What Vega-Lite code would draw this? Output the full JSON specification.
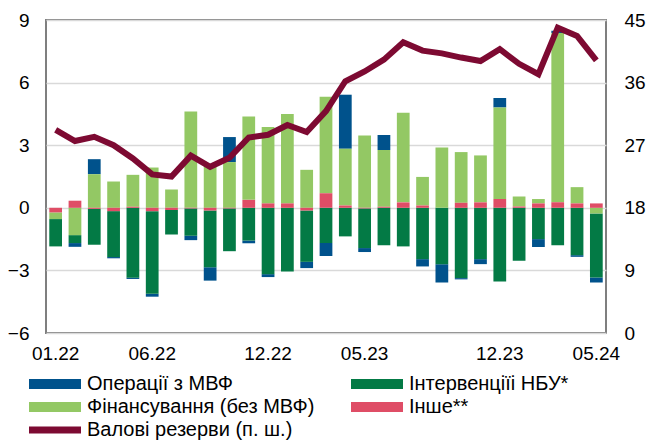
{
  "$schema": "https://vega.github.io/schema/vega-lite/v6.json",
  "width": 560,
  "height": 313,
  "autosize": {"type": "none"},
  "padding": {"left": 46, "top": 20, "right": 43, "bottom": 108},
  "config": {
    "font": "Liberation Sans",
    "view": {"stroke": "#7f7f7f", "strokeWidth": 2},
    "axis": {"labelFontSize": 19, "labelColor": "#000000", "labelFont": "Liberation Sans"},
    "legend": {"labelFontSize": 20, "labelColor": "#000000", "labelFont": "Liberation Sans", "labelLimit": 400}
  },
  "datasets": {
    "months": [
      {"m": "01.22", "imf": 0, "nbu": -1.31, "fin": -0.32, "oth": -0.22, "res": 29.2},
      {"m": "02.22", "imf": -0.18, "nbu": -0.38, "fin": -1.31, "oth": 0.34, "res": 27.6},
      {"m": "03.22", "imf": 0.72, "nbu": -1.72, "fin": 1.61, "oth": -0.05, "res": 28.2},
      {"m": "04.22", "imf": -0.06, "nbu": -2.2, "fin": 1.26, "oth": -0.16, "res": 27.0},
      {"m": "05.22", "imf": -0.06, "nbu": -3.35, "fin": 1.53, "oth": 0.05, "res": 25.1},
      {"m": "06.22", "imf": -0.14, "nbu": -3.96, "fin": 1.93, "oth": -0.16, "res": 22.8},
      {"m": "07.22", "imf": 0, "nbu": -1.18, "fin": 0.88, "oth": -0.1, "res": 22.5},
      {"m": "08.22", "imf": -0.21, "nbu": -1.31, "fin": 4.62, "oth": -0.03, "res": 25.5},
      {"m": "09.22", "imf": -0.64, "nbu": -2.72, "fin": 2.06, "oth": -0.13, "res": 23.9},
      {"m": "10.22", "imf": 1.2, "nbu": -2.05, "fin": 2.19, "oth": -0.03, "res": 25.2},
      {"m": "11.22", "imf": -0.13, "nbu": -1.57, "fin": 3.99, "oth": 0.38, "res": 28.1},
      {"m": "12.22", "imf": -0.14, "nbu": -3.18, "fin": 3.66, "oth": 0.21, "res": 28.5},
      {"m": "01.23", "imf": 0, "nbu": -3.05, "fin": 4.28, "oth": 0.21, "res": 29.9},
      {"m": "02.23", "imf": -0.3, "nbu": -2.46, "fin": 1.82, "oth": -0.13, "res": 28.9},
      {"m": "03.23", "imf": -0.62, "nbu": -1.69, "fin": 4.62, "oth": 0.7, "res": 31.9},
      {"m": "04.23", "imf": 2.59, "nbu": -1.37, "fin": 2.72, "oth": 0.11, "res": 36.2},
      {"m": "05.23", "imf": -0.19, "nbu": -1.9, "fin": 3.47, "oth": -0.03, "res": 37.6},
      {"m": "06.23", "imf": 0.72, "nbu": -1.8, "fin": 2.72, "oth": 0.05, "res": 39.3},
      {"m": "07.23", "imf": 0, "nbu": -1.85, "fin": 4.3, "oth": 0.26, "res": 41.8},
      {"m": "08.23", "imf": -0.35, "nbu": -2.46, "fin": 1.37, "oth": 0.11, "res": 40.6},
      {"m": "09.23", "imf": -0.88, "nbu": -2.7, "fin": 2.89, "oth": 0, "res": 40.2},
      {"m": "10.23", "imf": -0.06, "nbu": -3.37, "fin": 2.43, "oth": 0.24, "res": 39.6},
      {"m": "11.23", "imf": -0.24, "nbu": -2.46, "fin": 2.25, "oth": 0.26, "res": 39.1},
      {"m": "12.23", "imf": 0.45, "nbu": -3.53, "fin": 4.39, "oth": 0.42, "res": 40.8},
      {"m": "01.24", "imf": 0, "nbu": -2.54, "fin": 0.48, "oth": 0.06, "res": 38.7},
      {"m": "02.24", "imf": -0.38, "nbu": -1.5, "fin": 0.21, "oth": 0.21, "res": 37.2},
      {"m": "03.24", "imf": 0.11, "nbu": -1.79, "fin": 8.12, "oth": 0.26, "res": 43.9},
      {"m": "04.24", "imf": -0.08, "nbu": -2.27, "fin": 0.78, "oth": 0.21, "res": 42.7},
      {"m": "05.24", "imf": -0.24, "nbu": -3.07, "fin": -0.27, "oth": 0.21, "res": 39.2}
    ],
    "series": [
      {"key": "imf", "name": "Операції з МВФ", "o": 4},
      {"key": "nbu", "name": "Інтервенціїі НБУ*", "o": 3},
      {"key": "fin", "name": "Фінансування (без МВФ)", "o": 2},
      {"key": "oth", "name": "Інше**", "o": 1}
    ]
  },
  "data": {"name": "months"},
  "encoding": {
    "x": {
      "field": "m",
      "type": "ordinal",
      "sort": null,
      "scale": {"paddingInner": 0.34, "paddingOuter": 0.17},
      "axis": {
        "values": ["01.22", "06.22", "12.22", "05.23", "12.23", "05.24"],
        "labelAngle": 0,
        "ticks": false,
        "domain": false,
        "grid": false,
        "title": null,
        "labelPadding": 11
      }
    }
  },
  "layer": [
    {
      "transform": [
        {"fold": ["imf", "nbu", "fin", "oth"], "as": ["key", "v"]},
        {"lookup": "key", "from": {"data": {"name": "series"}, "key": "key", "fields": ["name", "o"]}}
      ],
      "mark": {"type": "bar"},
      "encoding": {
        "y": {
          "field": "v",
          "type": "quantitative",
          "stack": "zero",
          "scale": {"domain": [-6, 9], "nice": false, "zero": false},
          "axis": {
            "values": [-6, -3, 0, 3, 6, 9],
            "title": null,
            "grid": true,
            "gridColor": "#d9d9d9",
            "gridWidth": 1.5,
            "ticks": false,
            "domain": false,
            "labelPadding": 17
          }
        },
        "color": {
          "field": "name",
          "type": "nominal",
          "scale": {
            "domain": ["Операції з МВФ", "Фінансування (без МВФ)", "Валові резерви (п. ш.)", "Інтервенціїі НБУ*", "Інше**"],
            "range": ["#00528c", "#93c864", "#7d0a32", "#037a45", "#df4d66"]
          },
          "legend": {
            "title": null,
            "orient": "none",
            "legendX": -1,
            "legendY": 354,
            "columns": 2,
            "columnPadding": 36,
            "rowPadding": 3,
            "symbolSize": 400,
            "symbolType": "M-2.6,-0.5H2.6V0.5H-2.6Z",
            "labelOffset": 22,
            "encode": {
              "symbols": {
                "update": {
                  "shape": {"signal": "datum.value === 'Валові резерви (п. ш.)' ? 'M-2.6,-0.35H2.6V0.35H-2.6Z' : 'M-2.6,-0.5H2.6V0.5H-2.6Z'"},
                  "fill": {"scale": "color", "field": "value"},
                  "strokeWidth": {"value": 0},
                  "opacity": {"value": 1}
                }
              }
            }
          }
        },
        "order": {"field": "o", "type": "quantitative"}
      }
    },
    {
      "mark": {"type": "line", "strokeWidth": 6, "strokeJoin": "miter"},
      "encoding": {
        "y": {
          "field": "res",
          "type": "quantitative",
          "scale": {"domain": [0, 45], "nice": false},
          "axis": {
            "orient": "right",
            "values": [0, 9, 18, 27, 36, 45],
            "title": null,
            "grid": false,
            "ticks": false,
            "domain": false,
            "labelPadding": 18
          }
        },
        "color": {"datum": "Валові резерви (п. ш.)"}
      }
    }
  ],
  "resolve": {"scale": {"y": "independent"}}
}
